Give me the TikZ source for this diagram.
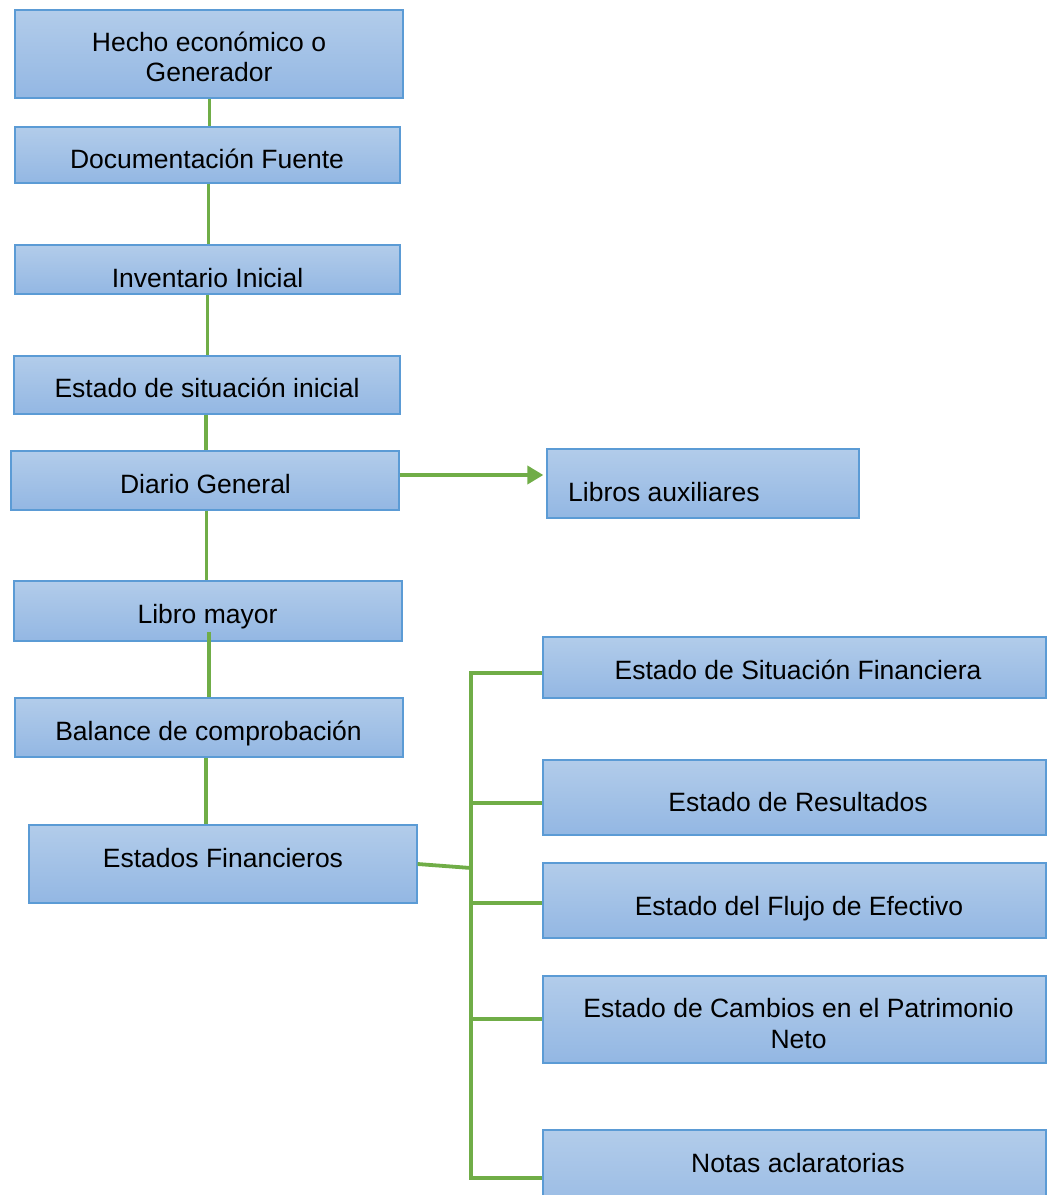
\documentclass[tikz,border=0pt]{standalone}
\usepackage{fontspec}
\setmainfont{Liberation Sans}
\usetikzlibrary{arrows.meta,calc}

\definecolor{boxtop}{HTML}{B2CCEA}
\definecolor{boxbot}{HTML}{93B7E3}
\definecolor{boxline}{HTML}{5B9BD5}
\definecolor{flow}{HTML}{70AD47}

\tikzset{
  stage/.style={draw=boxline, line width=1.3pt, top color=boxtop, bottom color=boxbot, inner sep=0pt},
  caption/.style={anchor=base, inner sep=0pt, font=\fontsize{26.5}{30.5}\selectfont, align=center, text=black},
  link/.style={draw=flow, line width=3.8pt, line join=miter},
}

% box from its corners: name, x1, y1, x2, y2
\newcommand\stagebox[5]{%
  \node[stage, minimum width={#4-#2}, minimum height={#5-#3}] (#1) at ({(#2+#4)/2},{(#3+#5)/2}) {};}

\begin{document}
\begin{tikzpicture}[x=1pt, y=-1pt]
\useasboundingbox (0,0) rectangle (1048,1195);

% main column
\stagebox{hecho}{15}{10}{403}{98}
\stagebox{doc}{15}{127}{400}{183}
\stagebox{inv}{15}{245}{400}{294}
\stagebox{sit}{14}{356}{400}{414}
\stagebox{diario}{11}{451}{399}{510}
\stagebox{mayor}{14}{581}{402}{641}
\stagebox{balance}{15}{698}{403}{757}
\stagebox{ef}{29}{825}{417}{903}

% side boxes
\stagebox{aux}{547}{449}{859}{518}
\stagebox{sitfin}{543}{637}{1046}{698}
\stagebox{res}{543}{760}{1046}{835}
\stagebox{flujo}{543}{863}{1046}{938}
\stagebox{cambios}{543}{976}{1046}{1063}
\stagebox{notas}{543}{1130}{1046}{1230}

% labels (multi-line ones sit on the baseline of their last line)
\node[caption] (hecho-t) at (209,81.5) {Hecho económico o\\Generador};
\node[caption] (doc-t) at (207,168) {Documentación Fuente};
\node[caption] (inv-t) at (207.5,287) {Inventario Inicial};
\node[caption] (sit-t) at (207,397) {Estado de situación inicial};
\node[caption] (diario-t) at (205.5,493) {Diario General};
\node[caption] (mayor-t) at (207.5,623) {Libro mayor};
\node[caption] (balance-t) at (208.5,740) {Balance de comprobación};
\node[caption] (ef-t) at (223,867) {Estados Financieros};
\node[caption, anchor=base west] (aux-t) at (568,501) {Libros auxiliares};
\node[caption] (sitfin-t) at (798,679) {Estado de Situación Financiera};
\node[caption] (res-t) at (798,811) {Estado de Resultados};
\node[caption] (flujo-t) at (799,915) {Estado del Flujo de Efectivo};
\node[caption] (cambios-t) at (798.5,1048) {Estado de Cambios en el Patrimonio\\Neto};
\node[caption] (notas-t) at (798,1172) {Notas aclaratorias};

% vertical flow
\draw[link] ([xshift=0.5pt]hecho.south) -- ([xshift=0.5pt]hecho.south |- doc.north);
\draw[link] ([xshift=1pt]doc.south) -- ([xshift=1pt]doc.south |- inv.north);
\draw[link] (inv.south) -- (inv.south |- sit.north);
\draw[link] ([xshift=-1pt]sit.south) -- ([xshift=-1pt]sit.south |- diario.north);
\draw[link] ([xshift=1.5pt]diario.south) -- ([xshift=1.5pt]diario.south |- mayor.north);
\draw[link] ($(mayor.south)+(1,-10)$) -- ($(mayor.south |- balance.north)+(1,0)$);
\draw[link] ([xshift=-3pt]balance.south) -- ([xshift=-3pt]balance.south |- ef.north);

% side branch
\draw[link, -{Triangle[length=16pt,width=18pt]}, shorten >=3pt]
  (diario.east |- 0,475) -- (aux.west |- 0,475);

% bracket to the statements
\coordinate (busTop) at (471,673);
\coordinate (busBot) at (471,1178);
\coordinate (busJoin) at (471,868);
\coordinate (busRes) at (471,803);
\coordinate (busFlujo) at (471,903);
\coordinate (busCambios) at (471,1019);
\draw[link] (ef.east) -- (busJoin);
\draw[link] (sitfin.west |- busTop) -- (busTop) -- (busBot) -- (notas.west |- busBot);
\draw[link] (busRes) -- (res.west |- busRes);
\draw[link] (busFlujo) -- (flujo.west |- busFlujo);
\draw[link] (busCambios) -- (cambios.west |- busCambios);
\end{tikzpicture}
\end{document}
